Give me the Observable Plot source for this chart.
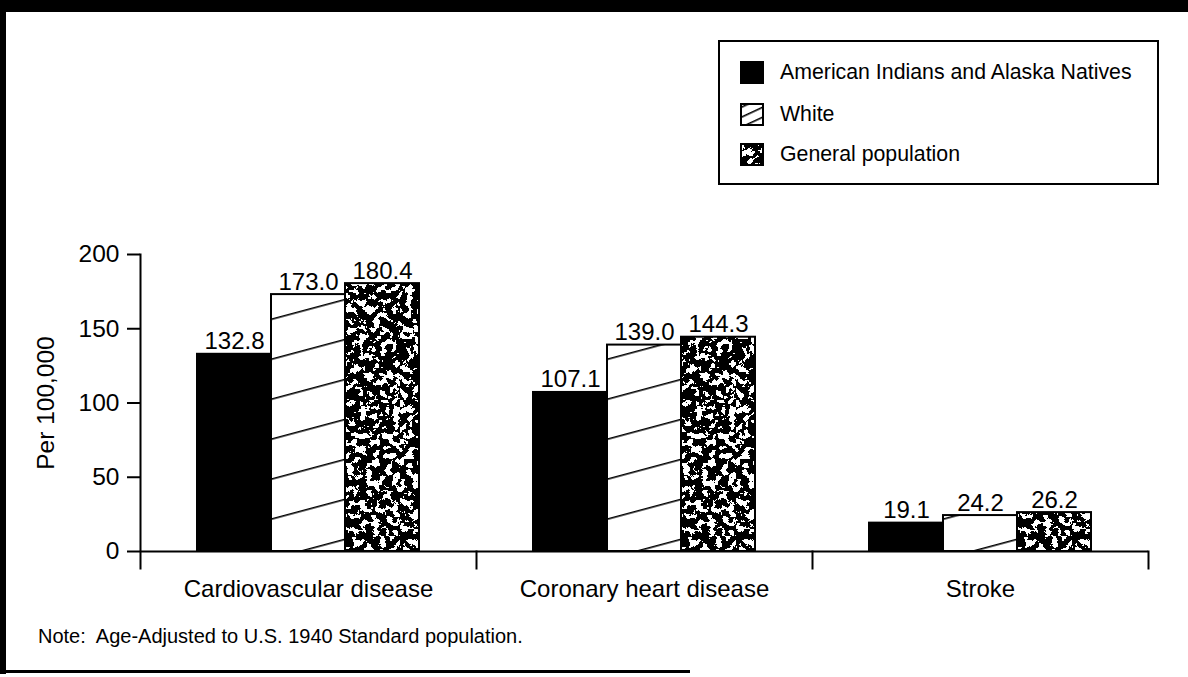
<!DOCTYPE html>
<html>
<head>
<meta charset="utf-8">
<script src="https://cdn.jsdelivr.net/npm/d3@7"></script>
<script src="https://cdn.jsdelivr.net/npm/@observablehq/plot@0.6"></script>
<style>
  html, body { margin: 0; padding: 0; background: #fff; }
  #wrap { position: relative; width: 1188px; height: 677px; overflow: hidden;
          font-family: "Liberation Sans", Arial, Helvetica, sans-serif; color: #000; background: #fff; }
  .edge { position: absolute; background: #000; }
  #chart { position: absolute; left: 0; top: 0; }
  #legend { position: absolute; left: 718px; top: 40px; width: 437px; height: 141px;
            border: 2px solid #000; box-sizing: content-box; }
  #legend .item { position: absolute; left: 20px; height: 23px; display: flex; align-items: center; }
  #legend .item span { position: absolute; left: 40px; font-size: 21.3px; white-space: nowrap; line-height: 23px; }
  #note { position: absolute; left: 38px; top: 625px; font-size: 20px; white-space: pre; }
</style>
</head>
<body>
<svg width="0" height="0" style="position:absolute">
  <defs>
    <pattern id="hatch" patternUnits="userSpaceOnUse" width="20" height="38.6" patternTransform="translate(0,551) rotate(-15)">
      <rect width="20" height="38.6" fill="#fff"/>
      <line x1="0" y1="0.8" x2="20" y2="0.8" stroke="#000" stroke-width="1.6"/>
    </pattern>
    <pattern id="hatchSmall" patternUnits="userSpaceOnUse" width="10" height="9" patternTransform="translate(0,4) rotate(-25)">
      <rect width="10" height="9" fill="#fff"/>
      <line x1="0" y1="0.8" x2="10" y2="0.8" stroke="#000" stroke-width="1.6"/>
    </pattern>
    <filter id="noiseF" x="0" y="0" width="100%" height="100%" color-interpolation-filters="sRGB">
      <feTurbulence type="fractalNoise" baseFrequency="0.15" numOctaves="5" seed="11" result="n"/>
      <feColorMatrix in="n" type="matrix" values="1 0 0 0 0  1 0 0 0 0  1 0 0 0 0  0 0 0 0 1" result="g"/>
      <feComponentTransfer in="g">
        <feFuncR type="discrete" tableValues="0 0 0 0 0 0 0 0 0 0 0 1 1 1 1 1 1 1 1 1"/>
        <feFuncG type="discrete" tableValues="0 0 0 0 0 0 0 0 0 0 0 1 1 1 1 1 1 1 1 1"/>
        <feFuncB type="discrete" tableValues="0 0 0 0 0 0 0 0 0 0 0 1 1 1 1 1 1 1 1 1"/>
      </feComponentTransfer>
    </filter>
    <pattern id="speckle" patternUnits="userSpaceOnUse" width="400" height="400">
      <rect width="400" height="400" fill="#888" filter="url(#noiseF)"/>
    </pattern>
  </defs>
</svg>
<div id="wrap">
  <div id="chart"></div>
  <div class="edge" style="left:0;top:0;width:1188px;height:12px"></div>
  <div class="edge" style="left:0;top:0;width:6px;height:674px"></div>
  <div class="edge" style="left:0;top:670px;width:690px;height:3px"></div>
  <div id="legend"></div>
  <div id="note"></div>
</div>
<script>
// ---- data ----
const categories = ["Cardiovascular disease", "Coronary heart disease", "Stroke"];
const series = ["American Indians and Alaska Natives", "White", "General population"];
const aianValues = [132.8, 107.1, 19.1];
const whiteValues = [173.0, 139.0, 24.2];
const generalValues = [180.4, 144.3, 26.2];
const yTicks = [0, 50, 100, 150, 200];
const yLabel = "Per 100,000";
const noteText = "Note:  Age-Adjusted to U.S. 1940 Standard population.";

const seriesValues = [aianValues, whiteValues, generalValues];
const fills = ["#000", "url(#hatch)", "url(#speckle)"];
const legendFills = ["#000", "url(#hatchSmall)", "url(#speckle)"];

const rows = categories.flatMap((c, i) =>
  series.map((s, j) => ({category: c, series: s, value: seriesValues[j][i]})));

const font = '"Liberation Sans", Arial, Helvetica, sans-serif';

const chart = Plot.plot({
  width: 1188,
  height: 620,
  marginLeft: 140,
  marginRight: 40,
  marginTop: 254,
  marginBottom: 69,
  style: {fontFamily: font, fontSize: "24px", color: "#000", background: "transparent", overflow: "visible"},
  fx: {domain: categories, padding: 0, label: null},
  x: {domain: series, paddingInner: 0, paddingOuter: 0.74, axis: null},
  y: {domain: [0, 200]},
  color: {domain: series, range: fills},
  marks: [
    Plot.barY(rows, {fx: "category", x: "series", y: "value", fill: "series", stroke: "#000", strokeWidth: 2}),
    Plot.ruleY([0], {stroke: "#000", strokeWidth: 2}),
    Plot.frame({anchor: "left", facetAnchor: "left", insetBottom: -17, stroke: "#000", strokeWidth: 2}),
    Plot.frame({anchor: "right", insetTop: 297, insetBottom: -17, stroke: "#000", strokeWidth: 2}),
    Plot.axisY({ticks: yTicks, tickSize: 13, tickPadding: 8, fontSize: 24.5, strokeWidth: 2,
                label: yLabel, labelAnchor: "center", labelArrow: "none", labelOffset: 104}),
    Plot.axisFx({anchor: "bottom", tickSize: 0, tickPadding: 28, fontSize: 24, label: null}),
    Plot.text(rows, {fx: "category", x: "series", y: "value", text: d => d.value.toFixed(1),
                     lineAnchor: "bottom", dy: -5, fontSize: 24, fill: "#000"})
  ]
});
document.getElementById("chart").appendChild(chart);

// legend
const legend = document.getElementById("legend");
const legendTops = [19, 61, 101];
series.forEach((s, j) => {
  const item = document.createElement("div");
  item.className = "item";
  item.style.top = legendTops[j] + "px";
  item.innerHTML = `<svg width="24" height="23" style="display:block"><rect x="1" y="1" width="22" height="21" fill="${legendFills[j]}" stroke="#000" stroke-width="2"/></svg><span>${s}</span>`;
  legend.appendChild(item);
});
document.getElementById("note").textContent = noteText;
</script>
</body>
</html>
